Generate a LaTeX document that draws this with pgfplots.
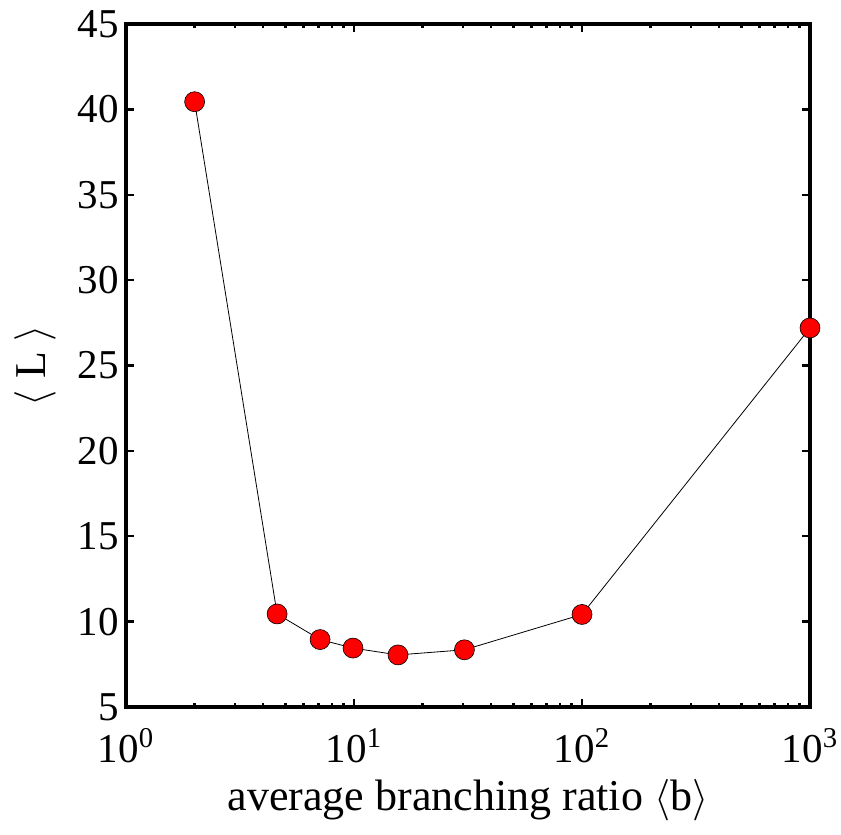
\documentclass[border=0pt]{standalone}
\usepackage{pgfplots}
\pgfplotsset{compat=1.18}
\usepackage{fontspec}
\setmainfont{Liberation Serif}
\begin{document}
\begin{tikzpicture}
\begin{axis}[
  width=342pt, height=341.5pt, scale only axis,
  xmode=log, xmin=1, xmax=1000,
  ymin=5, ymax=45,
  xtick={1,10,100,1000},
  xticklabels={10\textsuperscript{0},10\textsuperscript{1},10\textsuperscript{2},10\textsuperscript{3}},
  ytick={5,10,...,45},
  /pgf/number format/assume math mode=true,
  tick label style={font=\fontsize{20.5}{22}\selectfont},
  yticklabel style={xshift=0pt},
  xticklabel style={yshift=-7pt},
  tick align=inside,
  major tick length=4pt, minor tick length=2pt,
  axis line style={line width=1.6pt},
  every tick/.style={black, line width=1.2pt},
  xlabel={average branching ratio $\langle$b$\rangle$},
  ylabel={$\langle$ L $\rangle$},
  label style={font=\fontsize{22}{24}\selectfont},
  xlabel style={at={(axis description cs:0.5,0)}, anchor=center, yshift=-46.5pt},
  ylabel style={at={(axis description cs:0,0.5)}, anchor=center, yshift=45.5pt},
]
\addplot[black, line width=0.4pt, mark=*, mark size=5pt,
  mark options={fill=red, draw=black, line width=0.3pt}]
  coordinates {(2,40.45) (4.6,10.45) (7.1,8.95) (9.9,8.45) (15.6,8.05) (30.5,8.35) (100,10.42) (1000,27.2)};
\end{axis}
\pgfresetboundingbox
\path (current axis.south west) ++(-63pt,-64pt) coordinate (bl);
\path (current axis.north east) ++(15.5pt,12pt) coordinate (tr);
\useasboundingbox (bl) rectangle (tr);
\end{tikzpicture}
\end{document}
